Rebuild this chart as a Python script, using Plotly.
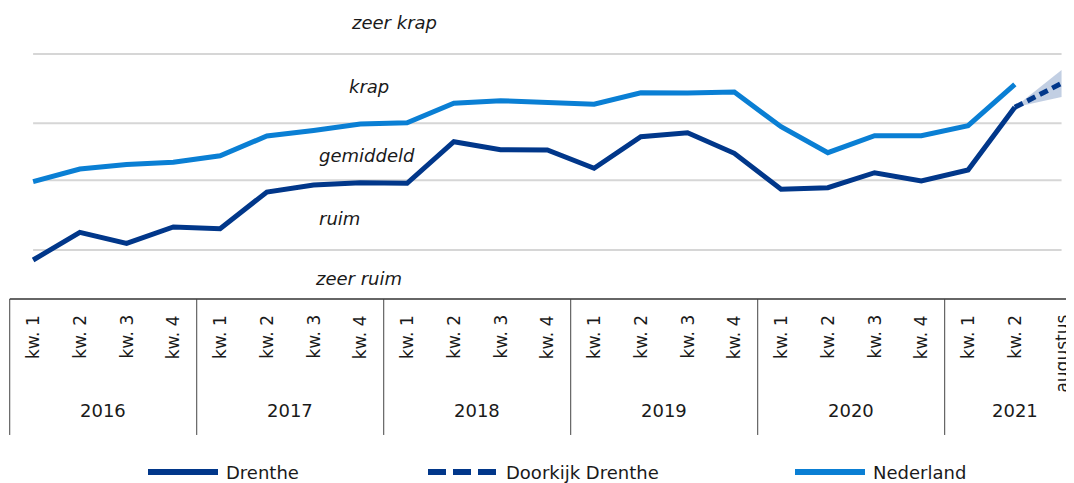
import plotly.graph_objects as go

# x-as: kwartalen per jaar, laatste punt = augustus 2021
perioden = ["kw. 1", "kw. 2", "kw. 3", "kw. 4"] * 5 + ["kw. 1", "kw. 2", "augustus"]
jaren = ["2016", "2017", "2018", "2019", "2020", "2021"]
jaar_lengte = [4, 4, 4, 4, 4, 3]

drenthe = [3.9, 6.67, 5.57, 7.2, 7.03, 10.7, 11.4, 11.63, 11.57, 15.73, 14.93,
           14.9, 13.07, 16.23, 16.63, 14.57, 10.97, 11.13, 12.63, 11.8, 12.9, 19.17]
nederland = [11.73, 13.0, 13.45, 13.67, 14.33, 16.3, 16.85, 17.5, 17.63, 19.57, 19.83,
             19.63, 19.47, 20.63, 20.6, 20.7, 17.23, 14.63, 16.33, 16.33, 17.33, 21.47]
doorkijk = [19.17, 21.57]
doorkijk_hoog = [19.17, 22.9]
doorkijk_laag = [19.17, 20.2]

# grenzen tussen de klassen en de klasselabels
grenzen = [4.9, 11.87, 17.57, 24.5]
klassen = ["zeer ruim", "ruim", "gemiddeld", "krap", "zeer krap"]
klasse_y = [2.1, 8.1, 14.4, 21.3, 27.7]
klasse_x = [6.97, 6.56, 7.14, 7.19, 7.72]

DONKER = "#01378a"
LICHT = "#0a7fd4"
TEKST = "#1a1a1a"
FONT = "Verdana, DejaVu Sans, sans-serif"

x = list(range(len(perioden)))
n_dk = len(drenthe)

fig = go.Figure()

# onzekerheidsmarge doorkijk
fig.add_trace(go.Scatter(x=x[n_dk - 1:], y=doorkijk_laag, mode="lines",
                         line=dict(width=0), hoverinfo="skip", showlegend=False))
fig.add_trace(go.Scatter(x=x[n_dk - 1:], y=doorkijk_hoog, mode="lines",
                         line=dict(width=0), fill="tonexty",
                         fillcolor="rgba(1,55,138,0.24)", hoverinfo="skip", showlegend=False))

fig.add_trace(go.Scatter(x=x[:len(nederland)], y=nederland, mode="lines", name="Nederland",
                         line=dict(color=LICHT, width=5)))
fig.add_trace(go.Scatter(x=x[:n_dk], y=drenthe, mode="lines", name="Drenthe",
                         line=dict(color=DONKER, width=5)))
fig.add_trace(go.Scatter(x=x[n_dk - 1:], y=doorkijk, mode="lines", name="Doorkijk Drenthe",
                         line=dict(color=DONKER, width=5, dash="9px,5px")))

shapes = []
# horizontale hulplijnen tussen de klassen
for g in grenzen:
    shapes.append(dict(type="line", xref="x", yref="y", x0=0, x1=len(perioden) - 1,
                       y0=g, y1=g, line=dict(color="#d6d6d6", width=2), layer="below"))

# tabel onder de grafiek
y_tabel_top = 0.3975
y_tabel_onder = 0.116
shapes.append(dict(type="line", xref="x", yref="paper", x0=-0.5, x1=len(perioden),
                   y0=y_tabel_top, y1=y_tabel_top, line=dict(color="#333333", width=1.5)))
grens = -0.5
for n in jaar_lengte:
    shapes.append(dict(type="line", xref="x", yref="paper", x0=grens, x1=grens,
                       y0=y_tabel_onder, y1=y_tabel_top, line=dict(color="#444444", width=1)))
    grens += n

annotations = []
for naam, kx, ky in zip(klassen, klasse_x, klasse_y):
    annotations.append(dict(x=kx, y=ky, xref="x", yref="y", text="<i>" + naam + "</i>",
                            showarrow=False, font=dict(size=18, color=TEKST, family=FONT)))

for i, p in enumerate(perioden):
    annotations.append(dict(x=i, y=0.3685, xref="x", yref="paper", text=p, textangle=-90,
                            xanchor="center", yanchor="top", showarrow=False,
                            font=dict(size=17, color=TEKST, family=FONT)))

start = 0
for jaar, n in zip(jaren, jaar_lengte):
    annotations.append(dict(x=start + (n - 1) / 2, y=0.1408, xref="x", yref="paper", text=jaar,
                            showarrow=False, font=dict(size=18, color=TEKST, family=FONT)))
    start += n

# legenda onderaan (eigen opmaak, lange lijnsymbolen)
W = 1074.0
def px(v):
    return (v - 8) / W

leg_y = 0.0393
legenda = [("Drenthe", DONKER, "solid", 148),
           ("Doorkijk Drenthe", DONKER, "18px,7px", 428),
           ("Nederland", LICHT, "solid", 795)]
for naam, kleur, stijl, start_px in legenda:
    shapes.append(dict(type="line", xref="paper", yref="paper", x0=px(start_px),
                       x1=px(start_px + 70), y0=leg_y, y1=leg_y,
                       line=dict(color=kleur, width=6, dash=stijl)))
    annotations.append(dict(x=px(start_px + 76), y=leg_y, xref="paper", yref="paper",
                            text=naam, xanchor="left", yanchor="middle", showarrow=False,
                            font=dict(size=18, color=TEKST, family=FONT)))

fig.update_layout(
    width=1074, height=483,
    margin=dict(l=0, r=0, t=0, b=0),
    plot_bgcolor="white", paper_bgcolor="white",
    showlegend=False,
    font=dict(family=FONT),
    xaxis=dict(range=[-0.537, 22.437], visible=False, fixedrange=True),
    yaxis=dict(range=[0, 29.1], domain=[0.3975, 1], visible=False, fixedrange=True),
    shapes=shapes,
    annotations=annotations,
)

fig.write_html("out.html")
